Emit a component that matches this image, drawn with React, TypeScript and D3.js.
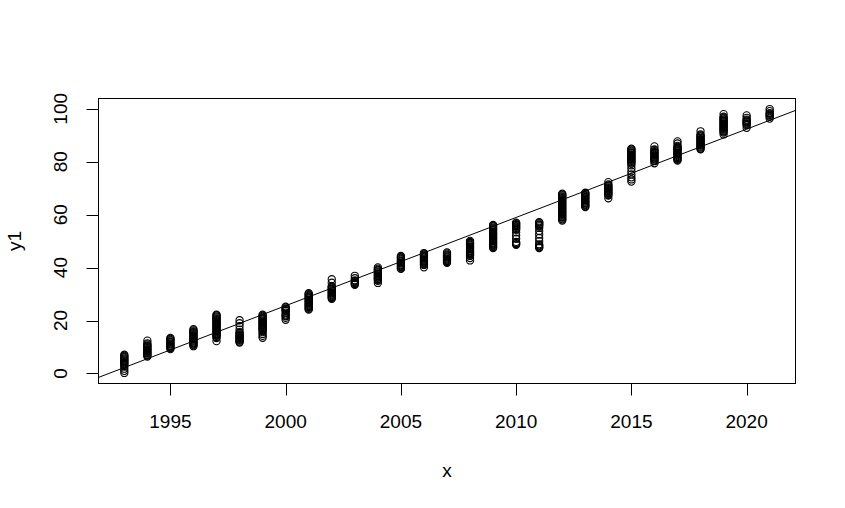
import React from "react";
import * as d3 from "d3";

const years = [1993,1994,1995,1996,1997,1998,1999,2000,2001,2002,2003,2004,2005,2006,2007,2008,2009,2010,2011,2012,2013,2014,2015,2016,2017,2018,2019,2020,2021];

const y1ByYear: number[][] = [
  [0.2, 1.0, 1.8, 2.6, 3.2, 3.5, 3.9, 4.2, 4.6, 4.9, 5.3, 5.6, 6.0, 6.3, 6.7, 7.1],
  [6.4, 6.8, 7.1, 7.5, 7.8, 8.2, 8.5, 8.9, 9.2, 9.6, 9.9, 10.3, 10.6, 11.0, 11.4, 12.4],
  [9.2, 9.6, 9.9, 10.3, 10.6, 11.0, 11.3, 11.7, 12.0, 12.4, 12.7, 13.1, 13.4],
  [10.3, 10.7, 11.0, 11.4, 11.7, 12.1, 12.4, 12.8, 13.1, 13.5, 13.8, 14.2, 14.5, 14.9, 15.2, 15.6, 15.9, 16.3, 16.7],
  [12.2, 13.4, 13.8, 14.2, 14.5, 14.9, 15.2, 15.6, 15.9, 16.3, 16.6, 17.0, 17.3, 17.7, 18.0, 18.4, 18.7, 19.1, 19.4, 19.8, 20.1, 20.5, 20.8, 21.2, 21.5, 21.9, 22.2],
  [11.7, 12.0, 12.4, 12.7, 13.1, 13.4, 13.8, 14.1, 14.5, 14.8, 15.2, 15.6, 16.6, 17.9, 19.0, 20.1],
  [13.5, 14.2, 14.9, 15.6, 16.2, 16.5, 16.9, 17.2, 17.6, 17.9, 18.3, 18.6, 19.0, 19.3, 19.7, 20.0, 20.4, 20.7, 21.1, 21.4, 21.8, 22.2],
  [20.3, 21.0, 21.6, 21.9, 22.3, 23.0, 23.6, 23.9, 24.2, 24.5, 24.9, 25.2],
  [24.1, 24.4, 24.8, 25.1, 25.5, 25.8, 26.2, 26.5, 26.9, 27.2, 27.6, 27.9, 28.3, 28.6, 29.0, 29.3, 29.7, 30.0, 30.3],
  [28.2, 28.5, 28.9, 29.2, 29.6, 29.9, 30.3, 30.6, 31.0, 31.3, 31.7, 32.0, 32.4, 32.7, 33.0, 34.3, 35.6],
  [33.5, 33.8, 34.2, 34.5, 34.9, 35.2, 36.0, 36.9],
  [34.2, 35.0, 35.4, 35.7, 36.1, 36.4, 36.8, 37.1, 37.5, 37.8, 38.2, 38.5, 38.9, 39.2, 39.6, 40.1],
  [39.5, 39.8, 40.2, 40.5, 40.9, 41.2, 41.6, 41.9, 42.3, 42.6, 43.0, 43.3, 43.7, 44.0, 44.4],
  [40.1, 41.0, 41.3, 41.7, 42.0, 42.4, 42.7, 43.1, 43.4, 43.8, 44.1, 44.5, 44.8, 45.2, 45.5],
  [41.8, 42.1, 42.5, 42.8, 43.2, 43.5, 43.9, 44.2, 44.6, 44.9, 45.3, 45.7],
  [42.7, 43.6, 44.4, 44.8, 45.1, 45.5, 45.8, 46.2, 46.5, 46.9, 47.2, 47.6, 47.9, 48.3, 48.6, 49.0, 49.3, 49.7, 50.1],
  [47.4, 47.8, 48.1, 48.5, 48.8, 49.2, 49.5, 49.9, 50.2, 50.6, 50.9, 51.3, 51.6, 52.0, 52.3, 52.7, 53.0, 53.4, 53.7, 54.1, 54.4, 54.8, 55.1, 55.5, 55.8, 56.1],
  [48.6, 48.9, 49.3, 49.7, 50.9, 52.1, 53.3, 54.3, 54.7, 55.0, 55.4, 55.7, 56.1, 56.4, 56.8, 57.0],
  [47.4, 47.7, 48.1, 48.4, 48.8, 50.0, 51.2, 52.5, 53.8, 55.0, 55.6, 56.0, 56.3, 56.7, 57.0, 57.2],
  [57.8, 58.2, 58.5, 58.9, 59.2, 59.6, 59.9, 60.3, 60.6, 61.0, 61.3, 61.7, 62.0, 62.4, 62.7, 63.1, 63.4, 63.8, 64.1, 64.5, 64.8, 65.2, 65.5, 65.9, 66.2, 66.6, 66.9, 67.3, 67.6, 67.9],
  [62.9, 63.2, 63.6, 63.9, 64.3, 64.6, 65.0, 65.3, 65.7, 66.0, 66.4, 66.7, 67.1, 67.4, 67.8, 68.1, 68.3],
  [66.2, 67.2, 67.5, 67.9, 68.2, 68.6, 68.9, 69.3, 69.6, 70.0, 70.3, 70.7, 71.0, 71.4, 72.3],
  [72.5, 73.3, 74.1, 75.2, 76.3, 77.5, 78.6, 79.3, 79.7, 80.0, 80.4, 80.7, 81.1, 81.4, 81.8, 82.1, 82.5, 82.8, 83.2, 83.5, 83.9, 84.2, 84.6, 84.9],
  [79.4, 80.2, 80.5, 80.9, 81.2, 81.6, 81.9, 82.3, 82.6, 83.0, 83.3, 83.7, 84.0, 84.4, 84.7, 85.8],
  [80.4, 80.7, 81.1, 81.4, 81.8, 82.1, 82.5, 82.8, 83.2, 83.5, 83.9, 84.2, 84.6, 84.9, 85.3, 85.6, 86.0, 86.9, 87.7],
  [84.7, 85.0, 85.4, 85.7, 86.1, 86.4, 86.8, 87.1, 87.5, 87.8, 88.2, 88.5, 88.9, 89.2, 89.6, 89.9, 90.3, 91.5],
  [90.3, 91.0, 91.4, 91.7, 92.1, 92.4, 92.8, 93.1, 93.5, 93.8, 94.2, 94.5, 94.9, 95.2, 95.6, 95.9, 96.3, 96.6, 97.0, 98.0],
  [92.8, 93.8, 94.2, 94.5, 94.9, 95.2, 95.6, 95.9, 96.6, 97.5],
  [96.3, 97.0, 97.4, 97.7, 98.1, 98.4, 99.1, 99.9],
];

const xTicks = [1995, 2000, 2005, 2010, 2015, 2020];
const yTicks = [0, 20, 40, 60, 80, 100];

// fitted line: value at 1993 and slope per year
const fitAt1993 = 2.24;
const fitSlope = 3.336;

const W = 845, H = 508;
const plot = { left: 98.5, right: 795.5, top: 98.5, bottom: 383.5 };
const FONT = "'Liberation Sans', Arial, sans-serif";
const FS = 19;

export default function App() {
  const points = years.flatMap((yr, i) => y1ByYear[i].map((v) => ({ x: yr, y: v })));
  const xExt = d3.extent(points, (d) => d.x) as [number, number];
  const yExt = d3.extent(points, (d) => d.y) as [number, number];
  const xPad = (xExt[1] - xExt[0]) * 0.04;
  const yPad = (yExt[1] - yExt[0]) * 0.04;
  const xs = d3.scaleLinear().domain([xExt[0] - xPad, xExt[1] + xPad]).range([plot.left, plot.right]);
  const ys = d3.scaleLinear().domain([yExt[0] - yPad, yExt[1] + yPad]).range([plot.bottom, plot.top]);
  const [x0, x1] = xs.domain();
  const fit = (x: number) => fitAt1993 + fitSlope * (x - 1993);
  const lineGen = d3.line<number>().x((x) => xs(x)).y((x) => ys(fit(x)));

  return (
    <div style={{ position: "absolute", left: 0, top: 0 }}>
      <svg width={W} height={H} style={{ display: "block", background: "#fff" }} fontFamily={FONT}>
        <rect x={0} y={0} width={W} height={H} fill="#fff" />
        <defs>
          <clipPath id="pc">
            <rect x={plot.left} y={plot.top} width={plot.right - plot.left} height={plot.bottom - plot.top} />
          </clipPath>
        </defs>
        {points.map((p, i) => (
          <circle key={i} cx={xs(p.x)} cy={ys(p.y)} r={3.6} fill="none" stroke="#000" strokeWidth={1.1} />
        ))}
        <path d={lineGen([x0, x1]) || ""} fill="none" stroke="#000" strokeWidth={1} clipPath="url(#pc)" />
        <rect x={plot.left} y={plot.top} width={plot.right - plot.left} height={plot.bottom - plot.top} fill="none" stroke="#000" strokeWidth={1} />
        <line x1={xs(xTicks[0])} x2={xs(xTicks[xTicks.length - 1])} y1={plot.bottom} y2={plot.bottom} stroke="#000" />
        {xTicks.map((t) => (
          <g key={t}>
            <line x1={Math.round(xs(t)) + 0.5} x2={Math.round(xs(t)) + 0.5} y1={plot.bottom} y2={plot.bottom + 12} stroke="#000" />
            <text x={xs(t)} y={428} textAnchor="middle" fontSize={FS} fill="#000">{t}</text>
          </g>
        ))}
        {yTicks.map((t) => (
          <g key={t}>
            <line x1={plot.left - 12} x2={plot.left} y1={Math.round(ys(t)) + 0.5} y2={Math.round(ys(t)) + 0.5} stroke="#000" />
            <text transform={`translate(67,${ys(t)}) rotate(-90)`} textAnchor="middle" fontSize={FS} fill="#000">{t}</text>
          </g>
        ))}
        <text x={(plot.left + plot.right) / 2} y={477} textAnchor="middle" fontSize={FS} fill="#000">x</text>
        <text transform={`translate(21,${(plot.top + plot.bottom) / 2}) rotate(-90)`} textAnchor="middle" fontSize={FS} fill="#000">y1</text>
      </svg>
    </div>
  );
}
